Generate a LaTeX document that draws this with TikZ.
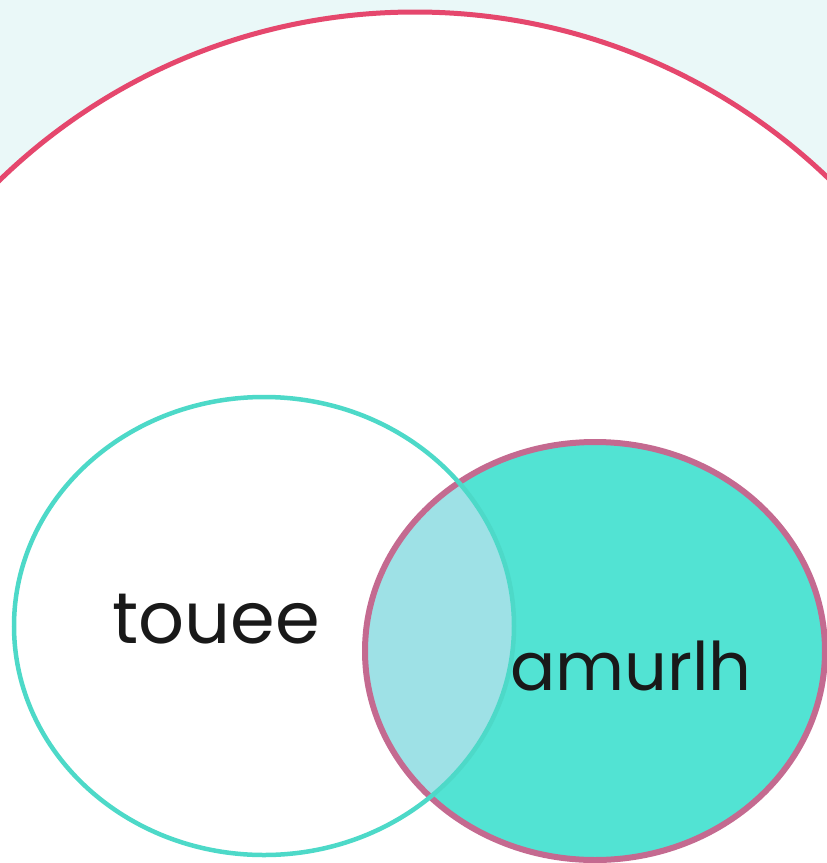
\documentclass[tikz,border=0pt]{standalone}
\usepackage{fontspec}
\setmainfont{Poppins}
\definecolor{bgcyan}{HTML}{EAF8F8}
\definecolor{redline}{HTML}{E5476D}
\definecolor{tealline}{HTML}{4DD9C8}
\definecolor{tealfill}{HTML}{52E3D3}
\definecolor{pinkline}{HTML}{C46A90}
\definecolor{overlap}{HTML}{9EE1E6}
\tikzset{
  label/.style={inner sep=0pt, anchor=base, text=black!90}
}
\begin{document}
\begin{tikzpicture}[x=1pt,y=-1pt]
\useasboundingbox (0,0) rectangle (827,863);
\clip (0,0) rectangle (827,863);
\fill[bgcyan] (0,0) rectangle (827,863);
% big red circle
\draw[redline, line width=5pt, fill=white] (415,609) circle (597);
% right circle fill
\fill[tealfill] (595,651) ellipse [x radius=230, y radius=209];
% overlap region
\begin{scope}
  \clip (595,651) ellipse [x radius=230, y radius=209];
  \fill[overlap] (264,626) ellipse [x radius=250, y radius=229];
\end{scope}
% right circle outline
\draw[pinkline, line width=6pt] (595,651) ellipse [x radius=230, y radius=209];
% left circle outline
\draw[tealline, line width=4.5pt] (264,626) ellipse [x radius=250, y radius=229];
% labels
\node[label, font=\fontsize{72}{80}\selectfont] (touee) at (216,643) {touee};
\node[label, font=\fontsize{67}{76}\selectfont] (amurlh) at (631,690) {amurlh};
\end{tikzpicture}
\end{document}
